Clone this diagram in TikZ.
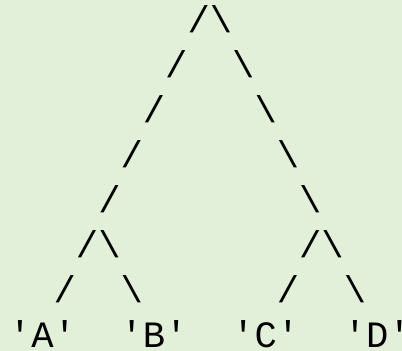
\documentclass[tikz,border=0pt]{standalone}
\usepackage{fontspec}
\newfontfamily\codefont{Liberation Mono}
\definecolor{panel}{HTML}{E2EFD9}
\newlength\cw
\setlength\cw{22.32pt}
\newcommand{\gap}[1]{\hspace*{#1\cw}}
\newcommand{\qt}{\textquotesingle}
\newcommand{\bsl}{\textbackslash}
\begin{document}
\begin{tikzpicture}[x=22.32pt, y=45pt, row/.style={anchor=base west, inner sep=0pt, outer sep=0pt, text depth=0pt, font=\codefont\fontsize{37.2}{45}\selectfont}]
        \useasboundingbox (-9pt,-3pt) rectangle (393pt,348pt);
        \fill[panel] (-9pt,-3pt) rectangle (393pt,348pt);
        \node[row] (root) at (8,7) {/\bsl};
        \node[row] (fork1) at (7,6) {/\gap{2}\bsl};
        \node[row] (fork2) at (6,5) {/\gap{4}\bsl};
        \node[row] (fork3) at (5,4) {/\gap{6}\bsl};
        \node[row] (fork4) at (4,3) {/\gap{8}\bsl};
        \node[row] (subroots) at (3,2) {/\bsl\gap{8}/\bsl};
        \node[row] (subforks) at (2,1) {/\gap{2}\bsl\gap{6}/\gap{2}\bsl};
        \node[row] (leaves) at (0,0) {\qt A\qt\gap{2}\qt B\qt\gap{2}\qt C\qt\gap{2}\qt D\qt};
\end{tikzpicture}
\end{document}
